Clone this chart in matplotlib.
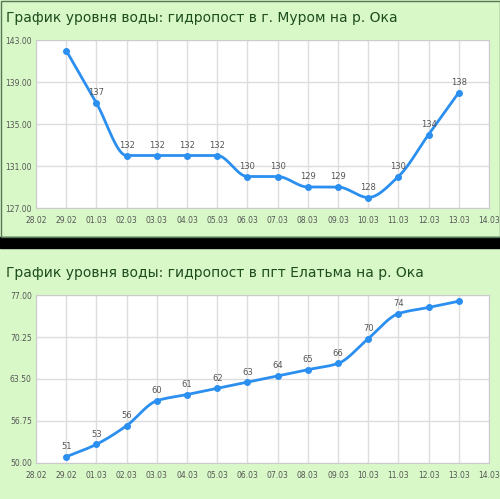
import numpy as np
import matplotlib
matplotlib.use("Agg")
import matplotlib.pyplot as plt
from matplotlib.patches import Rectangle

dates = ["28.02","29.02","01.03","02.03","03.03","04.03","05.03","06.03","07.03","08.03","09.03","10.03","11.03","12.03","13.03","14.03"]
murom = [142,137,132,132,132,132,130,130,129,129,128,130,134,138]
murom_labels = [None,"137","132","132","132","132","130","130","129","129","128","130","134","138"]
elatma = [51,53,56,60,61,62,63,64,65,66,70,74,75,76]
elatma_labels = ["51","53","56","60","61","62","63","64","65","66","70","74",None,None]
titles = ["График уровня воды: гидропост в г. Муром на р. Ока",
          "График уровня воды: гидропост в пгт Елатьма на р. Ока"]

def pchip(x, y, xs):
    x = np.asarray(x, float); y = np.asarray(y, float)
    h = np.diff(x); d = np.diff(y) / h
    m = np.zeros_like(y)
    m[0], m[-1] = d[0], d[-1]
    for k in range(1, len(y) - 1):
        if d[k-1] * d[k] > 0:
            w1 = 2*h[k] + h[k-1]; w2 = h[k] + 2*h[k-1]
            m[k] = (w1 + w2) / (w1/d[k-1] + w2/d[k])
    out = np.empty_like(xs)
    for i, xv in enumerate(xs):
        k = min(np.searchsorted(x, xv) - 1, len(x) - 2); k = max(k, 0)
        t = (xv - x[k]) / h[k]
        h00 = 2*t**3 - 3*t**2 + 1; h10 = t**3 - 2*t**2 + t
        h01 = -2*t**3 + 3*t**2; h11 = t**3 - t**2
        out[i] = h00*y[k] + h10*h[k]*m[k] + h01*y[k+1] + h11*h[k]*m[k+1]
    return out

W, H = 500, 499
fig = plt.figure(figsize=(W/100, H/100), dpi=100)
bg = fig.add_axes([0, 0, 1, 1]); bg.set_xlim(0, W); bg.set_ylim(H, 0); bg.axis("off")
bg.add_patch(Rectangle((0, 0), W, H, color="#d8f8c8"))
bg.add_patch(Rectangle((0, 237), W, 11, color="black"))
bg.add_patch(Rectangle((0.5, 0.5), W-1, 236, fill=False, ec="#557755", lw=1))

def panel(top, data, labels, ylim, yticks, title):
    bg.text(6, top + 18, title, fontsize=10, color="#1e4d1e", va="center")
    left, right, t, b = 36, 489, top + 40, top + 208
    ax = fig.add_axes([left/W, 1 - b/H, (right-left)/W, (b-t)/H])
    ax.set_facecolor("white")
    x = np.arange(1, len(data) + 1)
    xs = np.linspace(1, len(data), 400)
    ax.plot(xs, pchip(x, data, xs), color="#2b8ff0", lw=2, zorder=3)
    ax.plot(x, data, "o", color="#2b8ff0", ms=4, zorder=4)
    off = (ylim[1] - ylim[0]) * 0.06
    for xi, v, l in zip(x, data, labels):
        if l:
            ax.text(xi, v + off, l, ha="center", va="center", fontsize=6, color="#555555")
    ax.set_xlim(0, 15); ax.set_ylim(*ylim)
    ax.set_xticks(range(16)); ax.set_xticklabels(dates)
    ax.set_yticks(yticks); ax.set_yticklabels([f"{v:.2f}" for v in yticks])
    ax.tick_params(labelsize=5.5, colors="#555555", length=0, pad=3)
    ax.tick_params(axis="x", pad=6)
    ax.grid(True, color="#dddddd", lw=1)
    for s in ax.spines.values():
        s.set_color("#cccccc")
    ax.set_axisbelow(True)

panel(0, murom, murom_labels, (127, 143), [127,131,135,139,143], titles[0])
panel(255, elatma, elatma_labels, (50, 77), [50,56.75,63.5,70.25,77], titles[1])
fig.savefig("out.png", dpi=100)
